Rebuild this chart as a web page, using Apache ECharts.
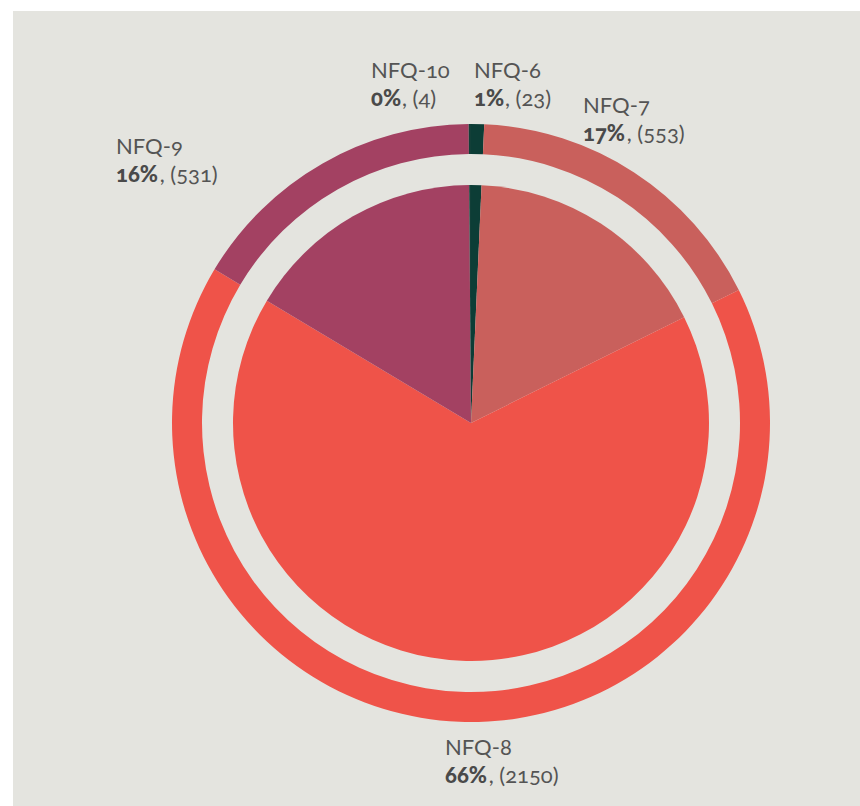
<!DOCTYPE html>
<html>
<head>
<meta charset="utf-8">
<script src="https://cdn.jsdelivr.net/npm/echarts@6/dist/echarts.min.js"></script>
<style>
  html, body { margin: 0; padding: 0; background: #ffffff; }
  #chart { position: absolute; left: 13px; top: 11px; width: 847px; height: 795px; }
  #chart text {
    font-feature-settings: "onum" 1 !important;
    font-variant-numeric: oldstyle-nums !important;
  }
</style>
</head>
<body>
<div id="chart"></div>
<script>
// Qualification levels, clockwise from 12 o'clock
const categories = ['NFQ-6', 'NFQ-7', 'NFQ-8', 'NFQ-9', 'NFQ-10'];
const counts = [23, 553, 2150, 531, 4];
const colors = ['#0c3d36', '#c9605c', '#ef5349', '#a34162', '#123f38'];

// Top-left anchor of each two-line label (chart pixels)
const labelAnchors = {
  'NFQ-6': [461, 44],
  'NFQ-7': [570, 79],
  'NFQ-8': [432, 721],
  'NFQ-9': [103, 120],
  'NFQ-10': [358, 44]
};

const seriesData = categories.map((name, i) => ({
  name: name,
  value: counts[i],
  itemStyle: { color: colors[i] }
}));

const FONT = 'Lato, "Noto Sans", sans-serif';
const chart = echarts.init(document.getElementById('chart'), null, { renderer: 'svg' });

chart.setOption({
  backgroundColor: '#e4e4df',
  animation: false,
  series: [
    {
      // outer ring
      type: 'pie',
      center: [458, 412],
      radius: [269, 299],
      startAngle: 90,
      clockwise: true,
      silent: true,
      label: { show: false },
      labelLine: { show: false },
      data: seriesData
    },
    {
      // inner pie with labels
      type: 'pie',
      center: [458, 412],
      radius: [0, 238],
      startAngle: 90,
      clockwise: true,
      silent: true,
      labelLine: { show: false },
      label: {
        show: true,
        position: 'outside',
        fontFamily: FONT,
        fontSize: 22,
        lineHeight: 28,
        color: '#545454',
        align: 'left',
        formatter: p => p.name + '\n{b|' + Math.round(p.percent) + '%}, (' + p.value + ')',
        rich: {
          b: { fontFamily: FONT, fontSize: 22, lineHeight: 28, fontWeight: 900, color: '#4a4a4a' }
        }
      },
      labelLayout: params => {
        const name = categories[params.dataIndex];
        const a = labelAnchors[name];
        return { x: a[0], y: a[1], align: 'left', verticalAlign: 'top' };
      },
      data: seriesData
    }
  ]
});
</script>
</body>
</html>
